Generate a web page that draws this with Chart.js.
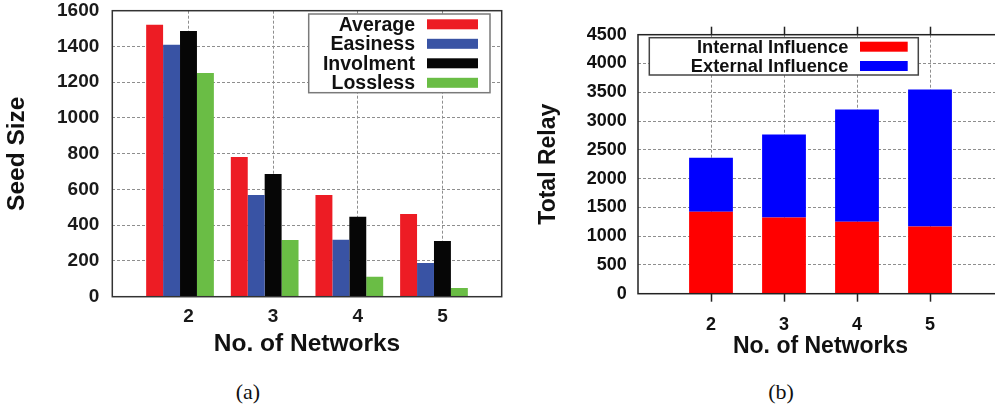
<!DOCTYPE html>
<html>
<head>
<meta charset="utf-8">
<script src="https://cdn.jsdelivr.net/npm/chart.js@4.4.0/dist/chart.umd.min.js"></script>
<style>
  body { margin: 0; background: #fff; overflow: hidden; width: 995px; height: 404px; position: relative; }
  #ca { position: absolute; left: 0; top: 0; }
  #cb { position: absolute; left: 520px; top: 0; }
  .cap { position: absolute; top: 380px; width: 60px; text-align: center; line-height: 24px;
         font-family: "Liberation Serif", "Times New Roman", serif; font-size: 22px; color: #111; }
</style>
</head>
<body>
<canvas id="ca" width="512" height="370"></canvas>
<canvas id="cb" width="490" height="370"></canvas>
<div class="cap" style="left:218px">(a)</div>
<div class="cap" style="left:751px">(b)</div>
<script>
// values
var networks = [2, 3, 4, 5];

var average   = [1521, 781, 569, 463];
var easiness  = [1409, 569, 318, 189];
var involment = [1487, 686, 447, 312];
var lossless  = [1252, 317, 111, 49];

var internalInfluence = [1423, 1324, 1249, 1167];
var externalInfluence = [941, 1441, 1951, 2382];

var FONT = '"Liberation Sans", Arial, Helvetica, sans-serif';
var GRID = '#8e8e8e';

function pts(vals) {
  return networks.map(function (n, i) { return { x: n, y: vals[i] }; });
}

// pin an axis to a fixed size so the plot area lands where the figure has it
function fitTo(w, h) {
  return function (s) {
    if (w != null) s.width = w;
    if (h != null) s.height = h;
    s.paddingLeft = s.paddingRight = s.paddingTop = s.paddingBottom = 0;
  };
}
function networkTicks(s) {
  s.ticks = networks.map(function (v) { return { value: v }; });
}
function plain(v) { return String(v); }

var frame = {
  id: 'frame',
  afterDatasetsDraw: function (chart, args, o) {
    var a = chart.chartArea, ctx = chart.ctx;
    ctx.save();
    ctx.strokeStyle = o.color;
    ctx.lineWidth = o.width;
    ctx.strokeRect(a.left, a.top, a.right - a.left, a.bottom - a.top);
    ctx.restore();
  }
};

// gnuplot style key: text right aligned, colour sample on the right
var boxLegend = {
  id: 'boxLegend',
  afterDraw: function (chart, args, o) {
    var ctx = chart.ctx, a = chart.chartArea;
    var x = a.left + o.x, y = a.top + o.y;
    ctx.save();
    ctx.fillStyle = '#fff';
    ctx.fillRect(x, y, o.w, o.h);
    ctx.lineWidth = 1.5;
    ctx.strokeStyle = o.border;
    ctx.strokeRect(x, y, o.w, o.h);
    ctx.font = 'bold ' + o.size + 'px ' + FONT;
    ctx.textAlign = 'right';
    ctx.textBaseline = 'middle';
    chart.data.datasets.forEach(function (ds, i) {
      var cy = a.top + o.row0 + i * o.gap;
      ctx.fillStyle = '#111';
      ctx.fillText(ds.label, a.left + o.textRight, cy + 1);
      ctx.fillStyle = ds.backgroundColor;
      ctx.fillRect(a.left + o.swX, cy - o.swH / 2, o.swW, o.swH);
    });
    ctx.restore();
  }
};

// (a) seed size
new Chart(document.getElementById('ca'), {
  type: 'bar',
  data: {
    datasets: [
      { label: 'Average',   data: pts(average),   backgroundColor: '#ed1c24' },
      { label: 'Easiness',  data: pts(easiness),  backgroundColor: '#3953a4' },
      { label: 'Involment', data: pts(involment), backgroundColor: '#060606' },
      { label: 'Lossless',  data: pts(lossless),  backgroundColor: '#6abd45' }
    ]
  },
  options: {
    responsive: false,
    animation: false,
    layout: { padding: { top: 10.7, right: 10.3, left: 0, bottom: 0 } },
    datasets: { bar: { categoryPercentage: 0.8, barPercentage: 1.0 } },
    scales: {
      x: { type: 'linear', min: 1.2, max: 5.8, offset: false, grid: { offset: false }, display: false,
           afterBuildTicks: networkTicks },
      x2: {
        type: 'linear', position: 'bottom', min: 1.1, max: 5.7, offset: false,
        afterBuildTicks: networkTicks,
        afterFit: fitTo(null, 73.3),
        grid: { offset: false, color: GRID, lineWidth: 1, drawTicks: false },
        border: { display: false, dash: [3, 2] },
        ticks: { callback: plain, padding: 8.4, color: '#1a1a1a', font: { family: FONT, size: 19, weight: 'bold' } },
        title: { display: true, text: 'No. of Networks', color: '#111', padding: { top: 0, bottom: 10.8 },
                 font: { family: FONT, size: 24.5, weight: 'bold' } }
      },
      y: {
        min: 0, max: 1600,
        afterFit: fitTo(112.3, null),
        grid: { color: GRID, lineWidth: 1, drawTicks: false },
        border: { display: false, dash: [3, 2] },
        ticks: { stepSize: 200, callback: plain, padding: 13, color: '#1a1a1a', font: { family: FONT, size: 19, weight: 'bold' } },
        title: { display: true, text: 'Seed Size', color: '#111', padding: { top: 2.6, bottom: 0 },
                 font: { family: FONT, size: 24.5, weight: 'bold' } }
      }
    },
    plugins: {
      legend: { display: false },
      tooltip: { enabled: false },
      frame: { color: '#333', width: 1.5 },
      boxLegend: { x: 196.4, y: 3.3, w: 181.3, h: 78.7, border: '#7a7a7a', size: 19.5,
                   textRight: 302.7, swX: 314.7, swW: 51, swH: 10, row0: 13.6, gap: 19.5 }
    }
  },
  plugins: [frame, boxLegend]
});

// (b) total relay
new Chart(document.getElementById('cb'), {
  type: 'bar',
  data: {
    datasets: [
      { label: 'Internal Influence', data: pts(internalInfluence), backgroundColor: '#ff0000' },
      { label: 'External Influence', data: pts(externalInfluence), backgroundColor: '#0000ff' }
    ]
  },
  options: {
    responsive: false,
    animation: false,
    layout: { padding: { top: 34.7, right: 7, left: 0, bottom: 0 } },
    datasets: { bar: { categoryPercentage: 0.6, barPercentage: 1.0 } },
    scales: {
      x: {
        type: 'linear', position: 'bottom', min: 1, max: 6, stacked: true, offset: false,
        afterBuildTicks: networkTicks,
        afterFit: fitTo(null, 76.3),
        grid: { offset: false, color: GRID, lineWidth: 1, drawTicks: true, tickLength: 8, tickColor: '#222', tickWidth: 1.5, tickBorderDash: [] },
        border: { display: false, dash: [3, 2] },
        ticks: { callback: plain, padding: 13, color: '#111', font: { family: FONT, size: 18, weight: 'bold' } },
        title: { display: true, text: 'No. of Networks', color: '#111', padding: { top: 0, bottom: 9.2 },
                 font: { family: FONT, size: 23, weight: 'bold' } }
      },
      xt: {
        type: 'linear', position: 'top', min: 1, max: 6, offset: false,
        afterBuildTicks: networkTicks,
        afterFit: fitTo(null, 0),
        grid: { offset: false, drawOnChartArea: false, drawTicks: true, tickLength: 8, tickColor: '#222', tickWidth: 1.5, tickBorderDash: [] },
        border: { display: false },
        ticks: { display: false }
      },
      y: {
        min: 0, max: 4500, stacked: true,
        afterFit: fitTo(118, null),
        grid: { color: GRID, lineWidth: 1, drawTicks: false },
        border: { display: false, dash: [3, 2] },
        ticks: { stepSize: 500, callback: plain, padding: 11.3, color: '#111', font: { family: FONT, size: 18, weight: 'bold' } },
        title: { display: true, text: 'Total Relay', color: '#111', padding: { top: 15.2, bottom: 0 },
                 font: { family: FONT, size: 23, weight: 'bold' } }
      }
    },
    plugins: {
      legend: { display: false },
      tooltip: { enabled: false },
      frame: { color: '#222', width: 1.5 },
      boxLegend: { x: 11.3, y: 3, w: 269, h: 37.3, border: '#444', size: 18.3,
                   textRight: 210.3, swX: 222, swW: 47.7, swH: 10, row0: 12, gap: 19.3 }
    }
  },
  plugins: [frame, boxLegend]
});
</script>
</body>
</html>
